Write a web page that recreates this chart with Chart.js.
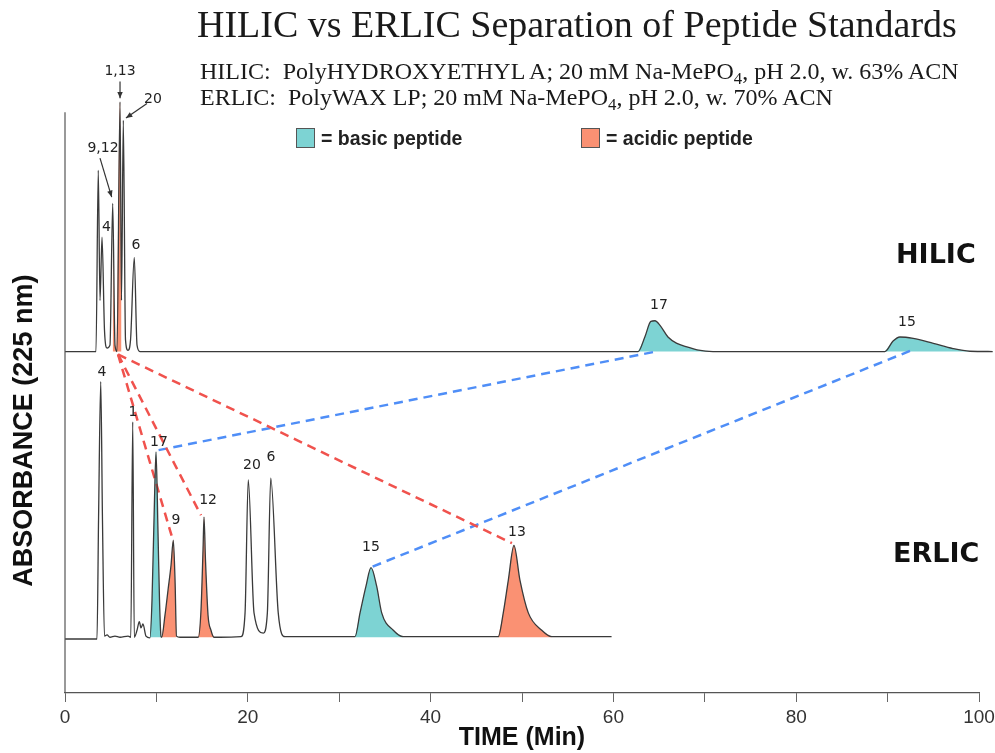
<!DOCTYPE html>
<html>
<head>
<meta charset="utf-8">
<script src="https://cdn.jsdelivr.net/npm/chart.js@4.4.0/dist/chart.umd.min.js"></script>
<style>
  html, body { margin: 0; padding: 0; background: #fff; }
  #wrap { position: relative; width: 995px; height: 753px; }
  #chart { position: absolute; left: 0; top: 0; }
  .serif { position: absolute; font-family: "Liberation Serif", "Times New Roman", serif; color: #1a1a1a; white-space: pre; line-height: 1; }
  .serif .s { font-size: 0.7em; position: relative; top: 0.3em; }
  #title { left: 197px; top: 5px; font-size: 38px; }
  #sub1 { left: 200px; top: 59px; font-size: 24px; }
  #sub2 { left: 200px; top: 85px; font-size: 24px; }
  .legend { position: absolute; top: 128px; font-family: "Liberation Sans", Arial, sans-serif; font-weight: bold; font-size: 19.5px; color: #222; line-height: 21px; white-space: pre; }
  .box { display: inline-block; width: 17px; height: 18px; border: 1.5px solid #555; vertical-align: top; margin-right: 6px; }
  .tag { position: absolute; font-family: "DejaVu Sans", Verdana, sans-serif; font-weight: bold; font-size: 27px; color: #111; line-height: 1; }
</style>
</head>
<body>
<div id="wrap">
  <canvas id="chart" width="995" height="753"></canvas>
  <div id="title" class="serif">HILIC vs ERLIC Separation of Peptide Standards</div>
  <div id="sub1" class="serif">HILIC:  PolyHYDROXYETHYL A; 20 mM Na-MePO<span class="s">4</span>, pH 2.0, w. 63% ACN</div>
  <div id="sub2" class="serif">ERLIC:  PolyWAX LP; 20 mM Na-MePO<span class="s">4</span>, pH 2.0, w. 70% ACN</div>
  <div class="legend" style="left:296px"><span class="box" style="background:#7dd3d3"></span>= basic peptide</div>
  <div class="legend" style="left:581px"><span class="box" style="background:#fa9173"></span>= acidic peptide</div>
  <div class="tag" style="left:896px; top:240px">HILIC</div>
  <div class="tag" style="left:893px; top:539px">ERLIC</div>
</div>
<script>
// HILIC trace (time in min, absorbance, arbitrary units, offset upward)
var hilicTime = [0, 3.39, 3.64, 3.83, 4.05, 4.32, 4.6, 4.92, 5.22, 5.47, 5.69, 6.02, 6.18, 6.38, 6.62, 6.89, 7.17, 7.58, 7.88, 8.2,
  62.7, 63.46, 64.1, 64.55, 65.1, 65.97, 66.95, 68.05, 69.15, 70.9,
  89.7, 90.6, 91.35, 92.8, 95.0, 97.15, 99.0, 101.5];
var hilicAbs = [58.8, 58.8, 90.0, 67.6, 78.5, 62.5, 59.4, 59.9, 84.3, 59.9, 58.8, 101.8, 67.6, 98.6, 60.8, 59.0, 60.8, 75.0, 59.9, 58.8,
  58.8, 61.4, 64.0, 64.1, 63.3, 61.3, 60.2, 59.6, 59.1, 58.8,
  58.8, 60.6, 61.3, 61.05, 60.2, 59.3, 58.85, 58.8];

// ERLIC trace
var erlicTime = [0, 3.5, 3.67, 3.91, 4.1, 4.32, 4.6, 4.92, 5.47, 6.02, 6.9, 7.2, 7.41, 7.58, 7.88, 8.13, 8.32, 8.53, 8.86,
  9.3, 9.52, 9.79, 9.96, 10.17, 10.34, 10.5,
  10.58, 10.94, 11.27, 11.6, 11.85, 12.04, 12.2, 12.58, 14.44,
  14.58, 14.88, 15.1, 15.21, 15.37, 15.65, 15.97, 16.3, 16.96,
  19.26, 19.7, 20.05, 20.68, 21.7, 22.14, 22.51, 23.33, 24.07,
  31.73, 32.28, 32.93, 33.48, 34.1, 34.65, 35.92, 37.0,
  47.4, 47.95, 48.5, 49.12, 49.78, 50.69, 52.16, 53.25, 59.8];
var erlicAbs = [9.3, 9.3, 29.8, 53.6, 29.8, 9.8, 10.0, 9.6, 9.8, 9.6, 9.8, 9.6, 46.7, 9.6, 10.8, 12.3, 11.2, 11.9, 9.8,
  9.5, 16.0, 33.2, 41.5, 28.1, 16.0, 9.8,
  9.6, 13.4, 17.7, 22.0, 26.3, 19.4, 9.8, 9.6, 9.6,
  9.6, 14.3, 24.6, 30.3, 22.9, 13.4, 10.8, 9.6, 9.6,
  9.7, 13.8, 36.7, 13.8, 10.3, 13.8, 37.0, 13.8, 9.7,
  9.7, 13.8, 18.4, 21.6, 18.4, 13.8, 10.8, 9.7,
  9.7, 13.8, 19.4, 25.4, 19.4, 13.8, 10.8, 9.7, 9.7];

var hilicBase = 58.8;
var erlicBase = 9.6;

// shaded peaks: trace, start, end, type
var shadeTrace = ['hilic', 'hilic', 'hilic', 'erlic', 'erlic', 'erlic', 'erlic', 'erlic'];
var shadeFrom = [5.0, 62.7, 89.7, 9.3, 10.58, 14.58, 31.73, 47.4];
var shadeTo = [6.3, 70.9, 99.0, 10.5, 12.2, 16.3, 37.0, 53.25];
var shadeType = ['acidic', 'basic', 'basic', 'basic', 'acidic', 'acidic', 'basic', 'acidic'];

// dashed links between the same peptide on both columns
var linkType = ['acidic', 'acidic', 'acidic', 'basic', 'basic'];
var linkHilicTime = [5.8, 5.8, 5.8, 64.33, 92.45];
var linkHilicAbs = [58.3, 58.3, 58.3, 58.7, 58.9];
var linkErlicTime = [11.7, 14.88, 48.9, 10.17, 33.56];
var linkErlicAbs = [26.9, 30.6, 25.8, 41.8, 21.7];

// peak numbers
var peakText = ['1,13', '20', '9,12', '4', '6', '17', '15', '4', '1', '17', '9', '12', '20', '6', '15', '13'];
var peakTime = [6.02, 9.63, 4.16, 4.54, 7.77, 64.99, 92.12, 4.05, 7.44, 10.28, 12.14, 15.65, 20.46, 22.54, 33.48, 49.45];
var peakAbs = [107.1, 102.2, 93.8, 80.2, 77.1, 66.8, 63.9, 55.2, 48.4, 43.2, 29.8, 33.2, 39.2, 40.6, 25.1, 27.7];

// arrows pointing at the crowded HILIC peaks
var arrowFromTime = [6.02, 8.97, 3.83];
var arrowFromAbs = [105.3, 101.5, 92.1];
var arrowToTime = [6.02, 6.67, 5.11];
var arrowToAbs = [102.4, 99.0, 85.4];

var tickLabels = {0: '0', 20: '20', 40: '40', 60: '60', 80: '80', 100: '100'};

var colors = { basic: '#7dd3d3', acidic: '#fa9173' };
var linkColors = { basic: '#4f8ef7', acidic: '#f0524d' };

function toPoints(times, values, from, to) {
  var pts = [];
  for (var i = 0; i < times.length; i++) {
    if (from === undefined || (times[i] >= from && times[i] <= to)) {
      pts.push({x: times[i], y: values[i]});
    }
  }
  return pts;
}

var datasets = [];

// traces on top
datasets.push({ data: toPoints(hilicTime, hilicAbs), borderColor: '#3a3a3a', borderWidth: 1.3, order: 0 });
datasets.push({ data: toPoints(erlicTime, erlicAbs), borderColor: '#3a3a3a', borderWidth: 1.3, order: 0 });

// filled peaks underneath
for (var s = 0; s < shadeTrace.length; s++) {
  var isH = shadeTrace[s] === 'hilic';
  datasets.push({
    data: toPoints(isH ? hilicTime : erlicTime, isH ? hilicAbs : erlicAbs, shadeFrom[s], shadeTo[s]),
    borderWidth: 0,
    borderColor: 'rgba(0,0,0,0)',
    backgroundColor: colors[shadeType[s]],
    fill: { value: isH ? hilicBase : erlicBase },
    order: 2
  });
}

// dashed links
for (var k = 0; k < linkType.length; k++) {
  datasets.push({
    data: [{x: linkHilicTime[k], y: linkHilicAbs[k]}, {x: linkErlicTime[k], y: linkErlicAbs[k]}],
    borderColor: linkColors[linkType[k]],
    borderWidth: 2.5,
    borderDash: [9, 6],
    cubicInterpolationMode: 'default',
    order: 1
  });
}

// axis line, y title, peak numbers and arrows
var extras = {
  id: 'extras',
  afterDatasetsDraw: function(chart) {
    var ctx = chart.ctx;
    var xs = chart.scales.x, ys = chart.scales.y;
    ctx.save();

    // y axis line
    ctx.strokeStyle = '#555';
    ctx.lineWidth = 1.2;
    ctx.beginPath();
    ctx.moveTo(xs.getPixelForValue(0), ys.getPixelForValue(0));
    ctx.lineTo(xs.getPixelForValue(0), ys.getPixelForValue(100));
    ctx.stroke();

    // y title
    ctx.save();
    ctx.translate(25, (ys.getPixelForValue(0) + ys.getPixelForValue(100)) / 2 + 28);
    ctx.rotate(-Math.PI / 2);
    ctx.fillStyle = '#111';
    ctx.font = 'bold 27px "Liberation Sans", Arial, sans-serif';
    ctx.textAlign = 'center';
    ctx.textBaseline = 'middle';
    ctx.fillText('ABSORBANCE (225 nm)', 0, 0);
    ctx.restore();

    // peak numbers
    ctx.fillStyle = '#222';
    ctx.font = '14px "DejaVu Sans", Verdana, sans-serif';
    ctx.textAlign = 'center';
    ctx.textBaseline = 'middle';
    for (var i = 0; i < peakText.length; i++) {
      ctx.fillText(peakText[i], xs.getPixelForValue(peakTime[i]), ys.getPixelForValue(peakAbs[i]));
    }

    // arrows
    ctx.strokeStyle = '#333';
    ctx.fillStyle = '#333';
    ctx.lineWidth = 1.2;
    for (var a = 0; a < arrowFromTime.length; a++) {
      var x1 = xs.getPixelForValue(arrowFromTime[a]), y1 = ys.getPixelForValue(arrowFromAbs[a]);
      var x2 = xs.getPixelForValue(arrowToTime[a]), y2 = ys.getPixelForValue(arrowToAbs[a]);
      var ang = Math.atan2(y2 - y1, x2 - x1);
      ctx.beginPath();
      ctx.moveTo(x1, y1);
      ctx.lineTo(x2, y2);
      ctx.stroke();
      ctx.beginPath();
      ctx.moveTo(x2, y2);
      ctx.lineTo(x2 - 7 * Math.cos(ang - 0.4), y2 - 7 * Math.sin(ang - 0.4));
      ctx.lineTo(x2 - 7 * Math.cos(ang + 0.4), y2 - 7 * Math.sin(ang + 0.4));
      ctx.closePath();
      ctx.fill();
    }
    ctx.restore();
  }
};

new Chart(document.getElementById('chart'), {
  type: 'line',
  data: { datasets: datasets },
  options: {
    responsive: false,
    animation: false,
    events: [],
    layout: { padding: { left: 65, right: 16, top: 60, bottom: 0 } },
    elements: {
      point: { radius: 0 },
      line: { cubicInterpolationMode: 'monotone', fill: false }
    },
    datasets: { line: { clip: false } },
    plugins: { legend: { display: false }, tooltip: { enabled: false } },
    scales: {
      x: {
        type: 'linear', min: 0, max: 100,
        // fixed axis box so the plot area ends where the original one does
        afterFit: function(scale) {
          scale.height = 60;
          scale.paddingLeft = 0;
          scale.paddingRight = 0;
        },
        grid: { drawOnChartArea: false, drawTicks: true, tickLength: 9, color: '#666' },
        border: { color: '#555', width: 1.2 },
        ticks: {
          stepSize: 10, autoSkip: false, maxRotation: 0, padding: 6, color: '#333',
          font: { family: '"Liberation Sans", Arial, sans-serif', size: 19, lineHeight: 1 },
          callback: function(v) { return tickLabels[v] !== undefined ? tickLabels[v] : ''; }
        },
        title: {
          display: true, text: 'TIME (Min)', color: '#111', padding: { top: 0, bottom: 3 },
          font: { family: '"Liberation Sans", Arial, sans-serif', size: 25, weight: 'bold', lineHeight: 0.95 }
        }
      },
      y: { display: false, min: 0, max: 109 }
    }
  },
  plugins: [extras]
});
</script>
</body>
</html>
